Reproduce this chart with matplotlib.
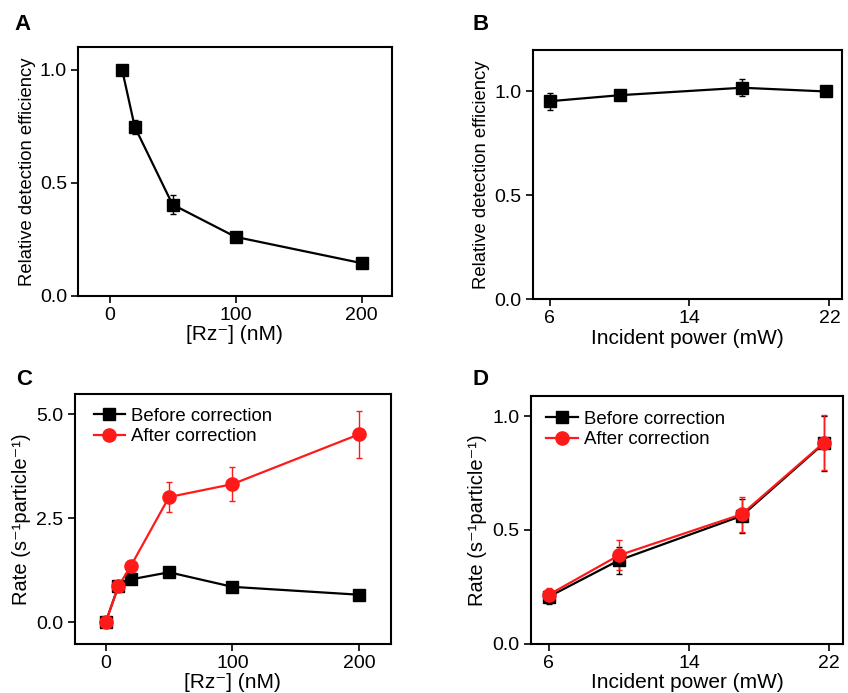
import matplotlib
matplotlib.use("Agg")
import matplotlib.pyplot as plt

plt.rcParams['font.family'] = ['Liberation Sans', 'DejaVu Sans']
plt.rcParams['font.size'] = 14

# A: detection efficiency vs ribozyme concentration
conc_a = [10, 20, 50, 100, 200]
eff_a = [1.0, 0.748, 0.404, 0.261, 0.145]
eff_a_err = [0.0, 0.03, 0.04, 0.02, 0.01]

# B: detection efficiency vs incident power
power_b = [6, 10, 17, 21.8]
eff_b = [0.953, 0.982, 1.018, 1.0]
eff_b_err = [0.04, 0.02, 0.04, 0.0]

# C: rate vs concentration, before/after correction
conc_c = [0, 10, 20, 50, 100, 200]
rate_before_c = [0.0, 0.865, 1.03, 1.20, 0.85, 0.66]
rate_before_c_err = [0.0, 0.05, 0.08, 0.1, 0.06, 0.05]
rate_after_c = [0.0, 0.86, 1.36, 3.01, 3.32, 4.52]
rate_after_c_err = [0.0, 0.05, 0.1, 0.35, 0.4, 0.57]

# D: rate vs incident power, before/after correction
power_d = [6, 10, 17, 21.7]
rate_before_d = [0.207, 0.367, 0.562, 0.881]
rate_before_d_err = [0.03, 0.06, 0.075, 0.12]
rate_after_d = [0.216, 0.389, 0.569, 0.884]
rate_after_d_err = [0.03, 0.065, 0.076, 0.12]

RED = '#ff1a1a'
TICK_FS = 14
XLAB_FS = 15
RATE_FS = 14.5
EFF_FS = 13.3
LEG_FS = 13.4


def style(ax):
    for s in ax.spines.values():
        s.set_linewidth(1.5)
    ax.tick_params(direction='out', length=5, width=1.2, labelsize=TICK_FS,
                   top=False, right=False, pad=3)


def add_legend(ax, anchor):
    # plain line+marker handles, without the error bar caps
    handles, labels = ax.get_legend_handles_labels()
    handles = [h[0] for h in handles]
    ax.legend(handles, labels, loc='upper left', bbox_to_anchor=anchor,
              frameon=False, fontsize=LEG_FS, handlelength=1.7,
              handletextpad=0.3, borderpad=0.0, labelspacing=0.2,
              borderaxespad=0.0)


fig = plt.figure(figsize=(8.48, 6.93), dpi=100)

# panel A
ax = fig.add_axes([0.092, 0.573, 0.370, 0.359])
ax.errorbar(conc_a, eff_a, yerr=eff_a_err, color='black', lw=1.6,
            marker='s', ms=8.5, elinewidth=1, capsize=2.5)
ax.set_xlim(-25, 224)
ax.set_ylim(0, 1.1)
ax.set_xticks([0, 100, 200])
ax.set_yticks([0, 0.5, 1.0])
ax.set_yticklabels(['0.0', '0.5', '1.0'])
ax.set_xlabel('[Rz\u207b] (nM)', fontsize=XLAB_FS, labelpad=1)
ax.set_ylabel('Relative detection efficiency', fontsize=EFF_FS, labelpad=3)
style(ax)

# panel B
ax = fig.add_axes([0.628, 0.568, 0.365, 0.360])
ax.errorbar(power_b, eff_b, yerr=eff_b_err, color='black', lw=1.6,
            marker='s', ms=8.5, elinewidth=1, capsize=2.5)
ax.set_xlim(5.03, 22.72)
ax.set_ylim(0, 1.2)
ax.set_xticks([6, 14, 22])
ax.set_yticks([0, 0.5, 1.0])
ax.set_yticklabels(['0.0', '0.5', '1.0'])
ax.set_xlabel('Incident power (mW)', fontsize=XLAB_FS, labelpad=1)
ax.set_ylabel('Relative detection efficiency', fontsize=EFF_FS, labelpad=3)
style(ax)

# panel C
ax = fig.add_axes([0.088, 0.071, 0.373, 0.360])
ax.errorbar(conc_c, rate_before_c, yerr=rate_before_c_err, color='black',
            lw=1.6, marker='s', ms=8.5, elinewidth=1, capsize=2.5,
            label='Before correction')
ax.errorbar(conc_c, rate_after_c, yerr=rate_after_c_err, color=RED,
            lw=1.6, marker='o', ms=9.5, elinewidth=1, capsize=2.5,
            label='After correction')
ax.set_xlim(-24.5, 225)
ax.set_ylim(-0.52, 5.48)
ax.set_xticks([0, 100, 200])
ax.set_yticks([0, 2.5, 5.0])
ax.set_yticklabels(['0.0', '2.5', '5.0'])
ax.set_xlabel('[Rz\u207b] (nM)', fontsize=XLAB_FS, labelpad=1)
ax.set_ylabel('Rate (s\u207b\u00b9particle\u207b\u00b9)', fontsize=RATE_FS)
add_legend(ax, (0.06, 0.947))
style(ax)

# panel D
ax = fig.add_axes([0.626, 0.071, 0.368, 0.358])
ax.errorbar(power_d, rate_before_d, yerr=rate_before_d_err, color='black',
            lw=1.6, marker='s', ms=8.5, elinewidth=1, capsize=2.5,
            label='Before correction')
ax.errorbar(power_d, rate_after_d, yerr=rate_after_d_err, color=RED,
            lw=1.6, marker='o', ms=9.5, elinewidth=1, capsize=2.5,
            label='After correction')
ax.set_xlim(4.97, 22.78)
ax.set_ylim(0, 1.09)
ax.set_xticks([6, 14, 22])
ax.set_yticks([0, 0.5, 1.0])
ax.set_yticklabels(['0.0', '0.5', '1.0'])
ax.set_xlabel('Incident power (mW)', fontsize=XLAB_FS, labelpad=1)
ax.set_ylabel('Rate (s\u207b\u00b9particle\u207b\u00b9)', fontsize=RATE_FS)
add_legend(ax, (0.05, 0.94))
style(ax)

# panel letters
for letter, x, y in [('A', 0.017, 0.965), ('B', 0.557, 0.965),
                     ('C', 0.019, 0.453), ('D', 0.557, 0.453)]:
    fig.text(x, y, letter, fontsize=16, fontweight='bold', va='center')

fig.savefig('out.png', dpi=100)
